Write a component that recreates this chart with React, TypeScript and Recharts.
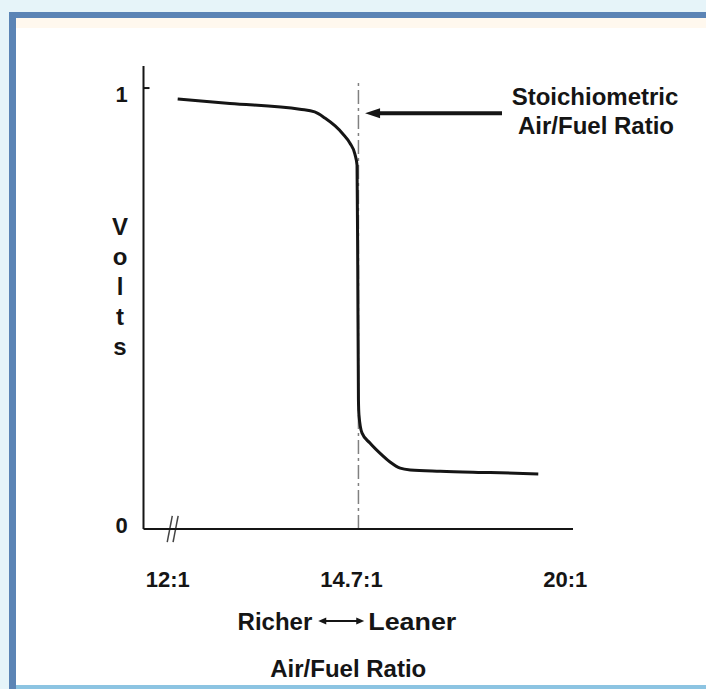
import React from 'react';
import { LineChart, Line, XAxis, YAxis, ReferenceLine, Label } from 'recharts';

// Oxygen sensor output vs air/fuel ratio
const airFuelRatio = [12.14, 12.88, 13.87, 14.08, 14.225, 14.37, 14.48, 14.58, 14.65, 14.68, 14.69, 14.7, 14.713, 14.79, 14.995, 15.25, 15.51, 15.77, 16.03, 16.8, 18.08, 19.31];
const sensorVolts = [0.975, 0.965, 0.952, 0.946, 0.932, 0.914, 0.896, 0.875, 0.85, 0.825, 0.6, 0.293, 0.259, 0.218, 0.195, 0.172, 0.152, 0.138, 0.134, 0.131, 0.128, 0.125];

const xTickValues = [12, 14.7, 20];
const xTickLabels = ['12:1', '14.7:1', '20:1'];
const yTickValues = [0, 1];
const yTickLabels = ['0', '1'];

const STOICH = 14.7;
const ANNOTATION_LINES = ['Stoichiometric', 'Air/Fuel Ratio'];
const ANNOTATION_VOLTS = 0.943;
const ANNOTATION_FROM = 18.38;
const ANNOTATION_TO = 14.87;

// The axis is broken: the richer side is drawn stretched relative to the leaner side.
const RICH_STRETCH = 1.81;
const axisPos = (r: number) => (r < STOICH ? STOICH - (STOICH - r) * RICH_STRETCH : r);

const rows = airFuelRatio.map((r, i) => ({ x: axisPos(r), v: sensorVolts[i] }));
const xTicks = xTickValues.map(axisPos);
const BREAK_AT = axisPos(12) + 0.12;

const FONT = "'Liberation Sans', Arial, Helvetica, sans-serif";
const INK = '#151515';

const textStyle = { fontFamily: FONT, fontWeight: 700, fill: INK } as const;

const XTick = (props: any) => {
  const { x, y, index } = props;
  const dx = index === 1 ? -7 : 0;
  return (
    <text x={x + dx} y={y + 58} textAnchor="middle" fontSize={22} style={textStyle}>
      {xTickLabels[index]}
    </text>
  );
};

const YTick = (props: any) => {
  const { x, y, index, payload } = props;
  const isOne = payload.value === 1;
  return (
    <g>
      {isOne && <line x1={x} y1={y} x2={x + 6} y2={y} stroke={INK} strokeWidth={2} />}
      <text x={x - 22} y={y + (isOne ? 14 : 4)} textAnchor="middle" fontSize={22} style={textStyle}>
        {yTickLabels[index]}
      </text>
    </g>
  );
};

const VoltsLabel = (props: any) => {
  const vb = props.viewBox || { x: 103.5, y: 66, width: 40, height: 463 };
  const cx = vb.x + vb.width - 23.5;
  const mid = vb.y + vb.height / 2;
  const letters = 'Volts'.split('');
  return (
    <text textAnchor="middle" fontSize={24} style={textStyle}>
      {letters.map((ch, i) => (
        <tspan key={i} x={cx} y={mid - 62.5 + 30 * i}>
          {ch}
        </tspan>
      ))}
    </text>
  );
};

const XTitle = (props: any) => {
  const vb = props.viewBox || { x: 143.5, y: 529, width: 429.5, height: 60 };
  const cx = vb.x + vb.width / 2;
  const y = vb.y;
  const ay = y + 92;
  const l = cx - 40;
  const r = cx + 6;
  return (
    <g>
      <text x={cx - 46} y={y + 101} textAnchor="end" fontSize={24} style={textStyle}>
        Richer
      </text>
      <line x1={l + 5} y1={ay} x2={r - 5} y2={ay} stroke={INK} strokeWidth={2} />
      <polygon points={`${l},${ay} ${l + 8},${ay - 3.5} ${l + 8},${ay + 3.5}`} fill={INK} />
      <polygon points={`${r},${ay} ${r - 8},${ay - 3.5} ${r - 8},${ay + 3.5}`} fill={INK} />
      <text x={cx + 10} y={y + 101} textAnchor="start" fontSize={24} textLength={88} lengthAdjust="spacingAndGlyphs" style={textStyle}>
        Leaner
      </text>
      <text x={cx - 10} y={y + 148} textAnchor="middle" fontSize={24} style={textStyle}>
        Air/Fuel Ratio
      </text>
    </g>
  );
};

const AnnotationArrow = (props: any) => {
  const { x1, y1, x2, y2 } = props;
  const tx = x1 + 93;
  return (
    <g>
      <line x1={x1} y1={y1} x2={x2 + 10} y2={y2} stroke={INK} strokeWidth={4} />
      <polygon points={`${x2},${y2} ${x2 + 15},${y2 - 5} ${x2 + 15},${y2 + 5}`} fill={INK} />
      <text x={tx} y={y1 - 8} textAnchor="middle" fontSize={24} style={textStyle}>
        {ANNOTATION_LINES[0]}
      </text>
      <text x={tx + 1} y={y1 + 21} textAnchor="middle" fontSize={24} style={textStyle}>
        {ANNOTATION_LINES[1]}
      </text>
    </g>
  );
};

export default function App() {
  return (
    <div style={{ position: 'absolute', left: 0, top: 0, width: 706, height: 689, overflow: 'hidden' }}>
      <svg width={706} height={689} style={{ position: 'absolute', left: 0, top: 0, display: 'block' }}>
        <rect x={0} y={0} width={706} height={689} fill="#e6f4f9" />
        <rect x={9} y={12} width={697} height={677} fill="#ffffff" />
        <rect x={16} y={18} width={690} height={10} fill="#fff8ee" />
        <rect x={9} y={12} width={697} height={6} fill="#5b84b5" />
        <rect x={9} y={12} width={7} height={677} fill="#5b84b5" />
        <rect x={16} y={685} width={690} height={4} fill="#8cc4e2" />
      </svg>
      <div style={{ position: 'absolute', left: 0, top: 0 }}>
        <LineChart width={706} height={689} data={rows} margin={{ top: 66, right: 133, bottom: 100, left: 103.5 }}>
          <XAxis
            dataKey="x"
            type="number"
            domain={[9.19, 20.2]}
            ticks={xTicks}
            tick={<XTick />}
            tickLine={false}
            tickSize={0}
            tickMargin={0}
            height={60}
            axisLine={{ stroke: INK, strokeWidth: 2 }}
            label={<Label content={<XTitle />} />}
          />
          <YAxis
            type="number"
            domain={[0, 1.05]}
            ticks={yTickValues}
            tick={<YTick />}
            tickLine={false}
            tickSize={0}
            tickMargin={0}
            width={40}
            axisLine={{ stroke: INK, strokeWidth: 2 }}
            label={<Label content={<VoltsLabel />} />}
          />
          <ReferenceLine
            segment={[{ x: STOICH, y: 0 }, { x: STOICH, y: 1.02 }]}
            stroke="#808080"
            strokeWidth={1.5}
            strokeDasharray="14 4 3 4"
          />
          <ReferenceLine
            segment={[{ x: BREAK_AT - 0.135, y: -0.03 }, { x: BREAK_AT - 0.005, y: 0.03 }]}
            stroke="#444"
            strokeWidth={1.5}
            ifOverflow="visible"
          />
          <ReferenceLine
            segment={[{ x: BREAK_AT + 0.015, y: -0.03 }, { x: BREAK_AT + 0.145, y: 0.03 }]}
            stroke="#444"
            strokeWidth={1.5}
            ifOverflow="visible"
          />
          <Line
            dataKey="v"
            type="monotone"
            stroke={INK}
            strokeWidth={3}
            dot={false}
            activeDot={false}
            isAnimationActive={false}
          />
          <ReferenceLine
            segment={[{ x: ANNOTATION_FROM, y: ANNOTATION_VOLTS }, { x: ANNOTATION_TO, y: ANNOTATION_VOLTS }]}
            shape={(p: any) => <AnnotationArrow {...p} />}
            ifOverflow="visible"
          />
        </LineChart>
      </div>
    </div>
  );
}
